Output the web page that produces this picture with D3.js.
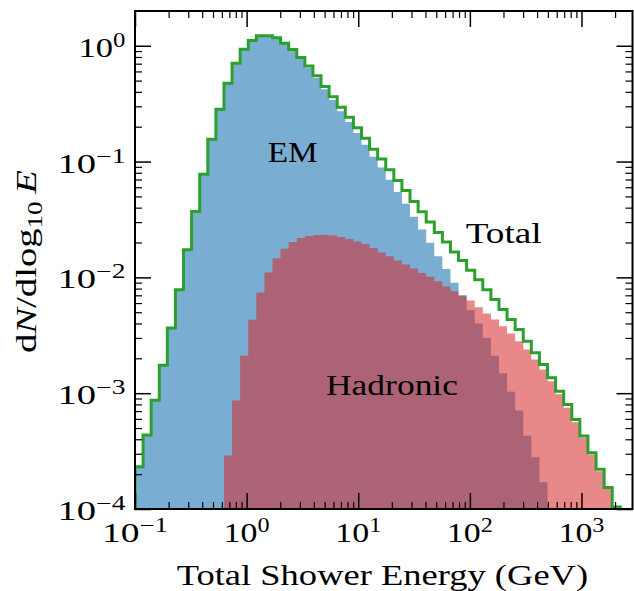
<!DOCTYPE html>
<html><head><meta charset="utf-8">
<script src="https://cdn.jsdelivr.net/npm/d3@7"></script>
<style>
html,body{margin:0;padding:0;background:#fff;}
svg{display:block;}
text{font-family:"Liberation Serif","Times New Roman",serif;fill:#000;}
</style></head><body>
<svg id="chart" width="634" height="591"></svg>
<script>
// ---------------- data ----------------
const binLog10Min = -1;          // first bin edge: 10^-1 GeV
const binLog10Step = 5 / 69;     // logarithmic bin width (dex)

const totalCounts = [2.32e-4, 4.35e-4, 8.7e-4, 1.74e-3, 3.66e-3, 7.83e-3, 0.0173, 0.0371, 0.0778, 0.156,
  0.283, 0.474, 0.705, 0.931, 1.11, 1.22, 1.22, 1.17, 1.05, 0.93,
  0.79, 0.67, 0.55, 0.444, 0.363, 0.294, 0.241, 0.196, 0.159, 0.128,
  0.105, 0.0848, 0.0686, 0.0562, 0.0452, 0.0368, 0.030, 0.0244, 0.0202, 0.01655,
  0.0140, 0.0115, 0.00955, 0.00783, 0.00643, 0.00527, 0.00432, 0.00354, 0.00281, 0.00223,
  0.00177, 0.00136, 0.00104, 0.0008, 0.000593, 0.000426, 0.000306, 0.00022, 0.000153, 0.000104,
  0.00005, 0.00002];

const emCounts = [2.32e-4, 4.35e-4, 8.7e-4, 1.74e-3, 3.66e-3, 7.83e-3, 0.0173, 0.0371, 0.0778, 0.156,
  0.283, 0.4737, 0.704, 0.929, 1.105, 1.21, 1.21, 1.155, 1.03, 0.91,
  0.77, 0.647, 0.527, 0.421, 0.34, 0.272, 0.22, 0.176, 0.14, 0.11,
  0.089, 0.0696, 0.0546, 0.0433, 0.0333, 0.0259, 0.0199, 0.0152, 0.0118, 0.0090,
  0.0070, 0.0052, 0.0040, 0.0030, 0.0021, 0.00149, 0.00103, 0.00071, 0.00043, 0.00028,
  0.00017, 0.00009, 0.00005, 0.00003, 0, 0, 0, 0, 0, 0,
  0, 0];

const hadronicCounts = [0, 0, 0, 0, 0, 0, 0, 0, 0, 0,
  0.00007, 2.9e-4, 8.65e-4, 0.0021, 0.0043, 0.0074, 0.011, 0.0146, 0.0177, 0.0202,
  0.0219, 0.0228, 0.0232, 0.0232, 0.023, 0.0223, 0.0214, 0.0204, 0.0194, 0.0179,
  0.0164, 0.0152, 0.014, 0.0129, 0.0119, 0.0109, 0.0101, 0.00924, 0.00836, 0.00758,
  0.00695, 0.0063, 0.00552, 0.00487, 0.00432, 0.00378, 0.00327, 0.00281, 0.00238, 0.00195,
  0.0016, 0.00127, 0.00098, 0.00075, 0.000562, 0.000412, 0.000295, 0.000212, 0.00015, 0.000098,
  0.00005, 0.00002];

const xTickExponents = [-1, 0, 1, 2, 3];
const yTickExponents = [-4, -3, -2, -1, 0];
const emLabel = "EM";
const hadronicLabel = "Hadronic";
const totalLabel = "Total";
const xAxisTitle = "Total Shower Energy (GeV)";

// ---------------- layout ----------------
const svg = d3.select("#chart");
const P = {left: 135, right: 632.5, top: 11, bottom: 509};
const x = d3.scaleLog().domain([0.1, Math.pow(10, 3.457)]).range([P.left, P.right]);
const y = d3.scaleLog().domain([1e-4, Math.pow(10, 0.3)]).range([P.bottom, P.top]);

const edges = d3.range(totalCounts.length + 1).map(i => Math.pow(10, binLog10Min + i * binLog10Step));
const floorV = 1e-6;
const yc = v => y(Math.max(v, floorV));

function stepPoints(vals) {
  const pts = [];
  vals.forEach((v, i) => { pts.push([edges[i], v]); pts.push([edges[i + 1], v]); });
  return pts;
}

svg.append("defs").append("clipPath").attr("id", "plotclip")
  .append("rect").attr("x", P.left).attr("y", P.top)
  .attr("width", P.right - P.left).attr("height", P.bottom - P.top);

const plot = svg.append("g").attr("clip-path", "url(#plotclip)");

const area = d3.area().x(d => x(d[0])).y0(yc(floorV)).y1(d => yc(d[1]));
plot.append("path").attr("d", area(stepPoints(emCounts)))
  .attr("fill", "#1f77b4").attr("fill-opacity", 0.6);
plot.append("path").attr("d", area(stepPoints(hadronicCounts)))
  .attr("fill", "#d62728").attr("fill-opacity", 0.55);

const tp = stepPoints(totalCounts);
const linePts = [[edges[0], floorV], ...tp, [edges[edges.length - 1], floorV]];
plot.append("path").attr("d", d3.line().x(d => x(d[0])).y(d => yc(d[1]))(linePts))
  .attr("fill", "none").attr("stroke", "#2ca02c").attr("stroke-width", 3)
  .attr("stroke-linejoin", "miter");

// ---------------- text helpers ----------------
function fit(g, {x0, y0, width, anchor}) {
  const bb = g.node().getBBox();
  const sx = width / bb.width;
  const left = anchor === "middle" ? x0 - width / 2 : anchor === "end" ? x0 - width : x0;
  g.attr("transform", `translate(${left - bb.x * sx},${y0}) scale(${sx},1)`);
}
function powerLabel(exp) {
  const g = svg.append("g");
  const t = g.append("text").attr("font-size", 28);
  t.append("tspan").text("10");
  t.append("tspan").attr("font-size", 20).attr("dy", -10)
    .text(exp < 0 ? "\u2212" + (-exp) : String(exp));
  return g;
}
function plainLabel(str, fs) {
  const g = svg.append("g");
  g.append("text").attr("font-size", fs).text(str);
  return g;
}

// in-plot labels
fit(plainLabel(emLabel, 30), {x0: 267.7, y0: 161.7, width: 50, anchor: "start"});
fit(plainLabel(totalLabel, 30), {x0: 465.7, y0: 243.3, width: 76, anchor: "start"});
fit(plainLabel(hadronicLabel, 30), {x0: 326, y0: 395, width: 132, anchor: "start"});

// ---------------- axes ----------------
const isMajor = t => Math.abs(Math.log10(t) - Math.round(Math.log10(t))) < 1e-6;
const xMajor = xTickExponents.map(e => Math.pow(10, e));
const yMajor = yTickExponents.map(e => Math.pow(10, e));
const xMinor = x.ticks().filter(t => !isMajor(t));
const yMinor = y.ticks().filter(t => !isMajor(t));

function drawAxis(axisFn, scale, vals, size, width, transform) {
  const g = svg.append("g").attr("transform", transform)
    .call(axisFn(scale).tickValues(vals).tickSize(-size).tickFormat(""));
  g.select(".domain").remove();
  g.selectAll(".tick line").attr("stroke", "#000").attr("stroke-width", width);
  g.selectAll(".tick text").remove();
}
[[xMajor, 16, 1.5], [xMinor, 7, 1.2]].forEach(([v, s, w]) => {
  drawAxis(d3.axisBottom, x, v, s, w, `translate(0,${P.bottom})`);
  drawAxis(d3.axisTop, x, v, s, w, `translate(0,${P.top})`);
});
[[yMajor, 16, 1.5], [yMinor, 7, 1.2]].forEach(([v, s, w]) => {
  drawAxis(d3.axisLeft, y, v, s, w, `translate(${P.left},0)`);
  drawAxis(d3.axisRight, y, v, s, w, `translate(${P.right},0)`);
});

svg.append("rect").attr("x", P.left).attr("y", P.top)
  .attr("width", P.right - P.left).attr("height", P.bottom - P.top)
  .attr("fill", "none").attr("stroke", "#000").attr("stroke-width", 2);

// tick labels
xTickExponents.forEach(e => {
  fit(powerLabel(e), {x0: x(Math.pow(10, e)), y0: 541.7, width: e < 0 ? 66 : 46, anchor: "middle"});
});
yTickExponents.forEach(e => {
  fit(powerLabel(e), {x0: 125.5, y0: y(Math.pow(10, e)) + 11, width: e < 0 ? 68 : 47, anchor: "end"});
});

// axis titles
fit(plainLabel(xAxisTitle, 30), {x0: 176.7, y0: 585, width: 411.6, anchor: "start"});

const yl = svg.append("g");
const ylt = yl.append("text").attr("font-size", 30);
ylt.append("tspan").text("d");
ylt.append("tspan").attr("font-style", "italic").text("N");
ylt.append("tspan").text("/dlog");
ylt.append("tspan").attr("font-size", 21).attr("dy", 6).text("10");
ylt.append("tspan").attr("dy", -6).text("\u2009");
ylt.append("tspan").attr("font-style", "italic").text("E");
{
  const bb = yl.node().getBBox();
  const sx = 183 / bb.width;
  yl.attr("transform", `translate(36,353) rotate(-90) translate(${-bb.x * sx},0) scale(${sx},1)`);
}
</script>
</body></html>
